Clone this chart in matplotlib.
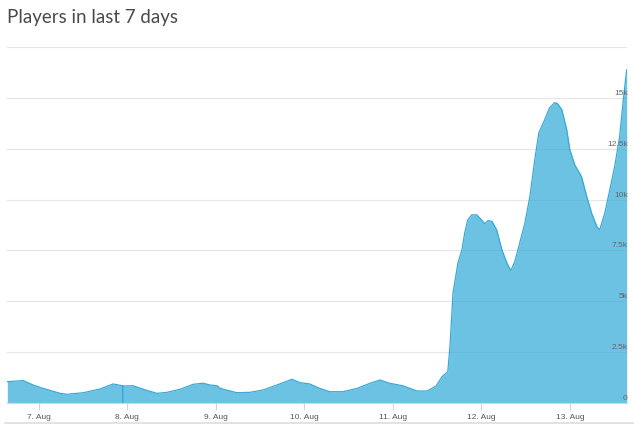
import matplotlib
matplotlib.use("Agg")
import matplotlib.pyplot as plt
from matplotlib.lines import Line2D
from matplotlib.transforms import blended_transform_factory, offset_copy
import pandas as pd

# readings (timestamp, players)
times = [
    "2016-08-06 15:30", "2016-08-06 19:50", "2016-08-06 22:30", "2016-08-07 01:10",
    "2016-08-07 05:50", "2016-08-07 07:40", "2016-08-07 12:05", "2016-08-07 16:40",
    "2016-08-07 20:10", "2016-08-07 22:05", "2016-08-07 22:45", "2016-08-07 22:46",
    "2016-08-07 22:48", "2016-08-07 22:50", "2016-08-08 01:35", "2016-08-08 04:20",
    "2016-08-08 08:05", "2016-08-08 10:50", "2016-08-08 14:20", "2016-08-08 17:55",
    "2016-08-08 20:35", "2016-08-08 22:30", "2016-08-09 00:20", "2016-08-09 01:10",
    "2016-08-09 05:45", "2016-08-09 09:20", "2016-08-09 12:50", "2016-08-09 16:35",
    "2016-08-09 20:40", "2016-08-09 22:50", "2016-08-10 01:30", "2016-08-10 04:10",
    "2016-08-10 06:55", "2016-08-10 10:30", "2016-08-10 14:20", "2016-08-10 17:50",
    "2016-08-10 20:30", "2016-08-10 23:10", "2016-08-11 02:40", "2016-08-11 06:35",
    "2016-08-11 09:20", "2016-08-11 11:45", "2016-08-11 13:20", "2016-08-11 14:55",
    "2016-08-11 15:30", "2016-08-11 16:20", "2016-08-11 17:40", "2016-08-11 18:45",
    "2016-08-11 19:30", "2016-08-11 20:20", "2016-08-11 21:25", "2016-08-11 22:45",
    "2016-08-12 00:05", "2016-08-12 00:55", "2016-08-12 01:50", "2016-08-12 02:55",
    "2016-08-12 04:10", "2016-08-12 05:35", "2016-08-12 06:55", "2016-08-12 08:00",
    "2016-08-12 09:05", "2016-08-12 10:25", "2016-08-12 11:50", "2016-08-12 13:10",
    "2016-08-12 14:30", "2016-08-12 15:35", "2016-08-12 17:10", "2016-08-12 18:30",
    "2016-08-12 19:55", "2016-08-12 20:40", "2016-08-12 21:50", "2016-08-12 23:10",
    "2016-08-13 00:00", "2016-08-13 01:20", "2016-08-13 03:10", "2016-08-13 04:35",
    "2016-08-13 05:55", "2016-08-13 07:20", "2016-08-13 08:05", "2016-08-13 09:30",
    "2016-08-13 10:50", "2016-08-13 12:10", "2016-08-13 13:30", "2016-08-13 14:35",
    "2016-08-13 15:25",
]
players = [
    1050, 1100, 885, 720,
    475, 430, 505, 690,
    935, 870, 850, 0,
    0, 835, 850, 675,
    475, 525, 675, 920,
    970, 885, 850, 720,
    505, 525, 640, 885,
    1165, 1000, 935, 720,
    555, 555, 720, 970,
    1130, 970, 850, 590,
    590, 835, 1290, 1540,
    2770, 5410, 6890, 7530,
    8360, 9000, 9250, 9250,
    9000, 8810, 8970, 8920,
    8510, 7530, 6890, 6510,
    6950, 7870, 8860, 10150,
    11960, 13280, 13920, 14510,
    14770, 14710, 14420, 13430,
    12450, 11710, 11130, 10150,
    9330, 8670, 8510, 9350,
    10480, 11630, 13100, 15070,
    16380,
]
y_ticks = [0, 2500, 5000, 7500, 10000, 12500, 15000, 17500]
y_labels = ["0", "2.5k", "5k", "7.5k", "10k", "12.5k", "15k", ""]
x_days = ["2016-08-07", "2016-08-08", "2016-08-09", "2016-08-10",
          "2016-08-11", "2016-08-12", "2016-08-13"]
x_labels = ["7. Aug", "8. Aug", "9. Aug", "10. Aug", "11. Aug", "12. Aug", "13. Aug"]

t = pd.to_datetime(times)

fig = plt.figure(figsize=(6.34, 4.34), dpi=100)
ax = fig.add_axes([7.3 / 634, 1 - 403 / 434, (626.7 - 7.3) / 634, (403 - 47) / 434])

ax.fill_between(t, players, color="#3aaeda", alpha=0.75, linewidth=0, zorder=2)
ax.plot(t, players, color="#3aa9d6", linewidth=0.9, zorder=3)

ax.set_xlim(t[0], t[-1])
ax.set_ylim(0, 17500)

# y labels sit inside the plot, just above each grid line
ax.set_yticks(y_ticks)
ax.set_yticklabels([])
ax.tick_params(axis="y", length=0)
ax.grid(axis="y", color="#e6e6e6", linewidth=0.8)
ax.set_axisbelow(True)
trans = offset_copy(blended_transform_factory(ax.transAxes, ax.transData),
                    fig=fig, x=1, y=1, units="dots")
for v, s in zip(y_ticks, y_labels):
    ax.text(1.0, v, s, transform=trans, ha="right", va="bottom", fontsize=6,
            family="Liberation Sans", color="#666666", zorder=5, clip_on=False)

ax.set_xticks(pd.to_datetime(x_days))
ax.set_xticklabels(x_labels)
ax.tick_params(axis="x", length=5, color="#ccd6eb", width=0.8, pad=3,
               labelsize=6, labelcolor="#555555")
for lbl in ax.get_xticklabels():
    lbl.set_fontfamily("Liberation Sans")

for side in ["top", "left", "right"]:
    ax.spines[side].set_visible(False)
ax.spines["bottom"].set_color("#ccd6eb")
ax.spines["bottom"].set_linewidth(0.8)

fig.text(7 / 634, 1 - 17 / 434, "Players in last 7 days", fontsize=13.5,
         family="Lato", fontweight="normal", color="#4a4a4a", va="center", ha="left")
fig.add_artist(Line2D([5 / 634, 1], [1 - 423 / 434] * 2, color="#dddddd",
                      linewidth=1.2, transform=fig.transFigure))

fig.savefig("out.png", dpi=100)
